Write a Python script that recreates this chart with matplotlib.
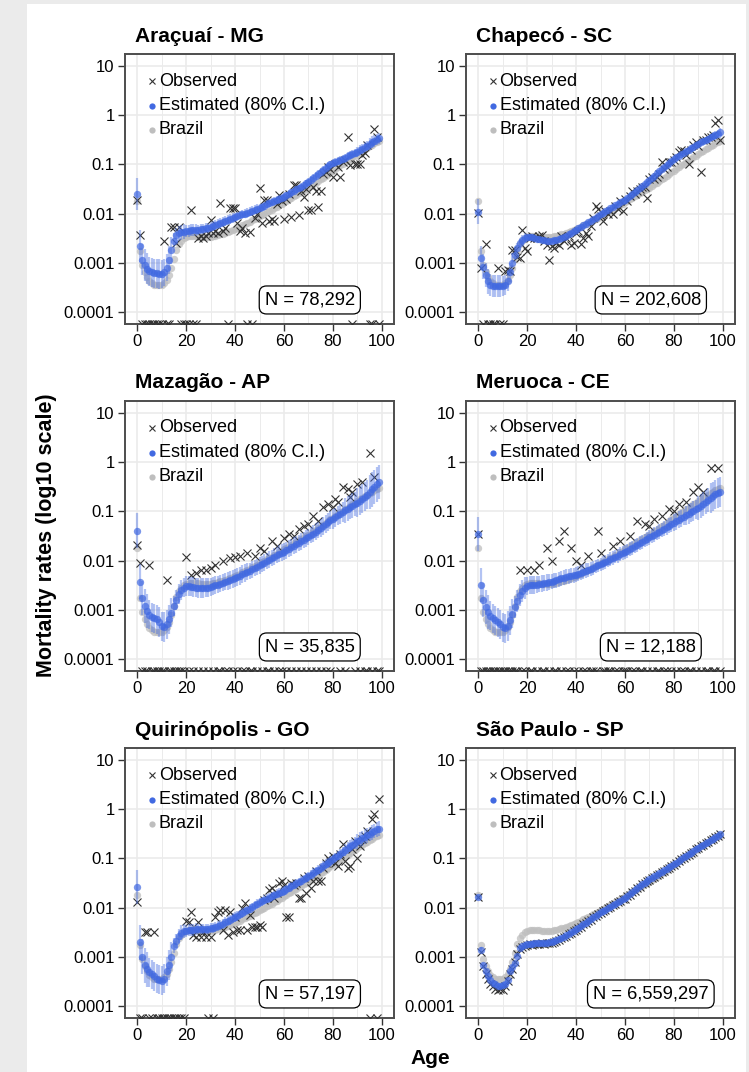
#!/usr/bin/env python3
"""Mortality rates by age for six municipalities (log10 scale)."""

import matplotlib

matplotlib.use("Agg")
import matplotlib.pyplot as plt
import numpy as np
from matplotlib.patches import Rectangle

plt.rcParams["font.family"] = ["Liberation Sans", "DejaVu Sans"]

AGES = list(range(100))
N = None  # zero deaths observed -> drawn on the lower border

TITLES = ["Araçuaí - MG", "Chapecó - SC", "Mazagão - AP",
          "Meruoca - CE", "Quirinópolis - GO", "São Paulo - SP"]
POP_LABELS = ["N = 78,292", "N = 202,608", "N = 35,835",
              "N = 12,188", "N = 57,197", "N = 6,559,297"]

# national curve (log10 rate), shared by all panels
BRAZIL = [
    -1.74, -2.77, -3.05, -3.20, -3.30, -3.38, -3.42, -3.45, -3.46, -3.46,
    -3.45, -3.42, -3.35, -3.25, -3.10, -2.92, -2.75, -2.62, -2.55, -2.50,
    -2.47, -2.46, -2.46, -2.46, -2.46, -2.46, -2.47, -2.47, -2.47, -2.47,
    -2.47, -2.46, -2.45, -2.44, -2.42, -2.41, -2.39, -2.37, -2.35, -2.33,
    -2.31, -2.29, -2.27, -2.24, -2.22, -2.20, -2.17, -2.14, -2.12, -2.09,
    -2.06, -2.03, -2.00, -1.97, -1.95, -1.92, -1.89, -1.86, -1.83, -1.80,
    -1.77, -1.74, -1.71, -1.68, -1.65, -1.62, -1.59, -1.56, -1.53, -1.50,
    -1.47, -1.44, -1.40, -1.37, -1.34, -1.30, -1.27, -1.23, -1.20, -1.16,
    -1.13, -1.09, -1.06, -1.02, -0.99, -0.95, -0.92, -0.88, -0.85, -0.82,
    -0.78, -0.75, -0.72, -0.69, -0.66, -0.63, -0.60, -0.57, -0.55, -0.52,
]

# estimated log10 rates
EST_ARACUAI = [
    -1.60, -2.66, -2.94, -3.05, -3.12, -3.18, -3.20, -3.22, -3.22, -3.23,
    -3.23, -3.20, -3.10, -2.95, -2.75, -2.55, -2.44, -2.40, -2.38, -2.37,
    -2.36, -2.35, -2.34, -2.34, -2.33, -2.33, -2.32, -2.31, -2.30, -2.29,
    -2.28, -2.26, -2.24, -2.22, -2.20, -2.18, -2.16, -2.13, -2.11, -2.09,
    -2.07, -2.05, -2.03, -2.01, -2.00, -1.98, -1.96, -1.94, -1.92, -1.90,
    -1.88, -1.86, -1.84, -1.81, -1.79, -1.77, -1.75, -1.72, -1.70, -1.68,
    -1.66, -1.63, -1.60, -1.57, -1.54, -1.51, -1.48, -1.45, -1.42, -1.38,
    -1.35, -1.31, -1.27, -1.23, -1.19, -1.15, -1.11, -1.07, -1.03, -1.00,
    -0.97, -0.95, -0.93, -0.91, -0.89, -0.86, -0.83, -0.80, -0.78, -0.76,
    -0.74, -0.71, -0.68, -0.65, -0.62, -0.58, -0.55, -0.52, -0.49, -0.47,
]
EST_CHAPECO = [
    -1.96, -2.91, -3.08, -3.25, -3.38, -3.45, -3.47, -3.48, -3.48, -3.48,
    -3.47, -3.45, -3.38, -3.20, -3.00, -2.84, -2.71, -2.61, -2.54, -2.50,
    -2.48, -2.47, -2.48, -2.49, -2.51, -2.52, -2.53, -2.54, -2.55, -2.55,
    -2.55, -2.54, -2.53, -2.52, -2.50, -2.48, -2.45, -2.42, -2.39, -2.36,
    -2.33, -2.30, -2.27, -2.24, -2.21, -2.18, -2.15, -2.12, -2.09, -2.05,
    -2.01, -1.98, -1.95, -1.92, -1.89, -1.86, -1.83, -1.80, -1.77, -1.74,
    -1.72, -1.68, -1.64, -1.60, -1.56, -1.52, -1.48, -1.44, -1.40, -1.36,
    -1.32, -1.27, -1.23, -1.18, -1.14, -1.10, -1.05, -1.01, -0.97, -0.92,
    -0.88, -0.85, -0.82, -0.79, -0.76, -0.73, -0.70, -0.67, -0.64, -0.61,
    -0.58, -0.55, -0.52, -0.50, -0.48, -0.45, -0.42, -0.40, -0.37, -0.34,
]
EST_MAZAGAO = [
    -1.39, -2.43, -2.76, -2.93, -3.03, -3.10, -3.16, -3.18, -3.20, -3.25,
    -3.34, -3.35, -3.30, -3.20, -3.06, -2.93, -2.80, -2.68, -2.60, -2.55,
    -2.52, -2.52, -2.53, -2.54, -2.55, -2.56, -2.56, -2.56, -2.55, -2.55,
    -2.54, -2.52, -2.50, -2.49, -2.47, -2.45, -2.43, -2.41, -2.39, -2.37,
    -2.35, -2.33, -2.31, -2.28, -2.26, -2.23, -2.21, -2.18, -2.15, -2.13,
    -2.10, -2.07, -2.04, -2.01, -1.98, -1.95, -1.92, -1.89, -1.86, -1.84,
    -1.82, -1.79, -1.76, -1.73, -1.70, -1.67, -1.64, -1.61, -1.58, -1.55,
    -1.52, -1.48, -1.45, -1.41, -1.38, -1.34, -1.30, -1.26, -1.22, -1.18,
    -1.15, -1.12, -1.08, -1.05, -1.01, -0.98, -0.94, -0.91, -0.88, -0.85,
    -0.82, -0.78, -0.74, -0.70, -0.66, -0.60, -0.55, -0.50, -0.45, -0.40,
]
EST_MERUOCA = [
    -1.46, -2.50, -2.80, -2.95, -3.05, -3.12, -3.18, -3.22, -3.26, -3.30,
    -3.36, -3.38, -3.33, -3.22, -3.08, -2.95, -2.82, -2.70, -2.62, -2.56,
    -2.52, -2.50, -2.50, -2.50, -2.49, -2.48, -2.47, -2.46, -2.45, -2.44,
    -2.43, -2.41, -2.40, -2.38, -2.36, -2.35, -2.33, -2.32, -2.31, -2.30,
    -2.29, -2.27, -2.25, -2.23, -2.21, -2.19, -2.17, -2.15, -2.12, -2.10,
    -2.08, -2.05, -2.03, -2.00, -1.97, -1.95, -1.92, -1.90, -1.87, -1.85,
    -1.83, -1.80, -1.77, -1.74, -1.71, -1.68, -1.65, -1.62, -1.59, -1.56,
    -1.53, -1.50, -1.47, -1.44, -1.41, -1.38, -1.35, -1.32, -1.29, -1.26,
    -1.23, -1.20, -1.17, -1.14, -1.11, -1.08, -1.05, -1.02, -0.99, -0.96,
    -0.93, -0.89, -0.85, -0.81, -0.77, -0.73, -0.69, -0.65, -0.62, -0.60,
]
EST_QUIRINOPOLIS = [
    -1.58, -2.71, -3.00, -3.18, -3.26, -3.32, -3.36, -3.40, -3.45, -3.47,
    -3.49, -3.45, -3.30, -3.17, -3.00, -2.78, -2.68, -2.58, -2.51, -2.48,
    -2.47, -2.46, -2.45, -2.45, -2.44, -2.44, -2.44, -2.44, -2.43, -2.43,
    -2.42, -2.41, -2.39, -2.37, -2.35, -2.33, -2.30, -2.27, -2.25, -2.22,
    -2.20, -2.17, -2.14, -2.11, -2.08, -2.05, -2.02, -1.99, -1.95, -1.92,
    -1.89, -1.87, -1.84, -1.82, -1.80, -1.77, -1.75, -1.72, -1.70, -1.68,
    -1.66, -1.63, -1.60, -1.57, -1.54, -1.51, -1.48, -1.45, -1.42, -1.39,
    -1.36, -1.33, -1.29, -1.26, -1.23, -1.19, -1.16, -1.12, -1.09, -1.05,
    -1.02, -0.98, -0.94, -0.90, -0.86, -0.82, -0.78, -0.75, -0.72, -0.68,
    -0.65, -0.62, -0.59, -0.56, -0.53, -0.50, -0.47, -0.44, -0.41, -0.39,
]
EST_SAO_PAULO = [
    -1.79, -2.86, -3.17, -3.30, -3.40, -3.48, -3.53, -3.56, -3.60, -3.60,
    -3.58, -3.56, -3.48, -3.30, -3.22, -3.12, -2.98, -2.83, -2.78, -2.76,
    -2.75, -2.74, -2.74, -2.73, -2.73, -2.73, -2.72, -2.72, -2.72, -2.71,
    -2.71, -2.69, -2.67, -2.65, -2.62, -2.60, -2.56, -2.53, -2.50, -2.47,
    -2.44, -2.41, -2.38, -2.34, -2.31, -2.27, -2.24, -2.20, -2.17, -2.13,
    -2.10, -2.07, -2.04, -2.01, -1.98, -1.95, -1.92, -1.89, -1.86, -1.83,
    -1.81, -1.77, -1.73, -1.69, -1.65, -1.61, -1.57, -1.53, -1.50, -1.46,
    -1.42, -1.39, -1.36, -1.33, -1.30, -1.27, -1.24, -1.21, -1.18, -1.15,
    -1.12, -1.09, -1.05, -1.02, -0.98, -0.95, -0.91, -0.88, -0.85, -0.81,
    -0.78, -0.75, -0.72, -0.69, -0.66, -0.63, -0.60, -0.57, -0.54, -0.51,
]

# 80% interval half-width (log10), one value per 5-year age band
CI_ARACUAI = [0.32, 0.30, 0.28, 0.15, 0.12, 0.10, 0.10, 0.10, 0.09, 0.09,
              0.08, 0.08, 0.07, 0.07, 0.07, 0.07, 0.08, 0.08, 0.10, 0.12]
CI_CHAPECO = [0.25, 0.22, 0.20, 0.10, 0.05, 0.04, 0.04, 0.04, 0.03, 0.03,
              0.03, 0.03, 0.03, 0.03, 0.03, 0.03, 0.04, 0.04, 0.06, 0.08]
CI_MAZAGAO = [0.35, 0.30, 0.30, 0.20, 0.20, 0.20, 0.18, 0.18, 0.18, 0.17,
              0.17, 0.17, 0.17, 0.17, 0.17, 0.18, 0.20, 0.25, 0.30, 0.35]
CI_MERUOCA = [0.35, 0.30, 0.30, 0.22, 0.18, 0.17, 0.15, 0.15, 0.15, 0.14,
              0.14, 0.14, 0.14, 0.14, 0.15, 0.15, 0.17, 0.20, 0.25, 0.30]
CI_QUIRINOPOLIS = [0.35, 0.30, 0.30, 0.15, 0.12, 0.10, 0.10, 0.10, 0.10, 0.09,
                   0.09, 0.09, 0.09, 0.09, 0.09, 0.10, 0.10, 0.12, 0.15, 0.15]
CI_SAO_PAULO = [0.05, 0.04, 0.04, 0.02, 0.01, 0.01, 0.01, 0.01, 0.01, 0.01,
                0.01, 0.01, 0.01, 0.01, 0.01, 0.01, 0.01, 0.01, 0.01, 0.02]

# observed log10 rates (None = no deaths at that age)
OBS_ARACUAI = [
    -1.72, -2.43, N, N, N, N, N, N, N, N,
    N, -2.55, N, N, -2.27, -2.27, -2.60, -2.27, N, N,
    N, N, -1.93, N, N, -2.50, -2.45, -2.50, -2.45, -2.40,
    -2.13, -2.40, -2.35, -2.40, -1.78, -2.35, -2.30, N, -1.89, -1.89,
    -1.89, -2.20, -2.35, -2.30, -2.40, N, -2.38, N, -2.10, -2.00,
    -1.48, -2.20, -1.72, -1.72, -2.16, -2.12, -2.16, -1.80, -1.62, -1.75,
    -2.11, -1.70, -1.60, -2.07, -1.42, -1.42, -2.03, -1.55, -1.66, -1.50,
    -1.93, -1.93, -1.45, -1.55, -1.86, -1.55, -1.20, -1.15, -1.05, -1.10,
    -1.25, -1.00, -1.05, -1.25, -0.95, -0.90, -0.44, -1.01, N, -1.00,
    -1.00, -1.00, -0.80, -0.77, -0.60, N, N, -0.27, -0.45, N,
]
OBS_CHAPECO = [
    -1.99, -3.10, N, -2.62, N, N, N, N, -3.10, N,
    N, -3.18, -3.15, -3.18, -2.74, -2.75, -2.88, -2.90, -2.33, -2.70,
    -2.77, -2.50, -2.45, -2.50, -2.50, -2.45, -2.44, -2.55, -2.65, -2.94,
    -2.66, -2.70, -2.60, -2.65, -2.45, -2.55, -2.50, -2.45, -2.65, -2.60,
    -2.40, -2.35, -2.62, -2.50, -2.40, -2.45, -2.25, -2.10, -1.85, -1.90,
    -2.05, -2.15, -1.95, -2.00, -1.95, -2.00, -1.85, -1.90, -1.75, -1.95,
    -1.70, -1.75, -1.65, -1.55, -1.60, -1.55, -1.50, -1.45, -1.45, -1.69,
    -1.30, -1.25, -1.30, -1.25, -1.20, -0.94, -1.10, -1.05, -0.95, -0.95,
    -0.90, -0.85, -0.75, -0.70, -0.72, -0.80, -1.00, -0.70, -0.60, -0.55,
    -0.62, -1.15, -0.50, -0.50, -0.45, -0.45, -0.40, -0.16, -0.10, -0.50,
]
OBS_MAZAGAO = [
    -1.69, -2.04, N, N, N, -2.09, N, N, N, N,
    N, N, -2.39, N, N, N, N, N, N, N,
    -1.92, N, -2.30, N, -2.25, N, -2.20, N, -2.20, N,
    -2.15, N, -2.10, N, N, -2.00, N, N, -1.95, N,
    -1.92, N, -1.90, N, N, -1.85, N, N, -1.90, N,
    -1.75, N, -1.80, N, N, -1.60, N, -1.70, N, N,
    -1.55, N, -1.45, N, -1.50, N, -1.35, N, -1.30, N,
    -1.25, N, -1.10, N, -1.20, N, -0.90, N, -0.85, N,
    -0.90, -0.75, -0.80, N, -0.50, N, -0.55, -0.70, -0.60, N,
    -0.45, N, -0.40, N, N, 0.20, N, -0.30, N, N,
]
OBS_MERUOCA = [
    -1.46, N, N, N, N, N, N, N, N, N,
    N, N, N, N, N, N, N, -2.20, N, N,
    -2.20, N, N, -2.20, N, -2.10, N, N, -1.75, N,
    -2.00, N, N, -1.60, N, -1.40, N, N, -1.75, N,
    -2.00, N, -2.10, N, N, -1.90, N, N, N, -1.40,
    -1.85, N, N, N, N, -1.70, N, N, -1.60, N,
    N, N, -1.50, N, N, -1.20, N, N, -1.25, N,
    -1.30, N, -1.15, N, N, -1.10, N, N, -0.95, N,
    -1.00, N, -0.85, N, N, -0.80, N, N, -0.60, N,
    -0.50, N, -0.60, N, N, -0.12, N, N, -0.12, N,
]
OBS_QUIRINOPOLIS = [
    -1.89, N, N, -2.50, -2.50, N, N, -2.50, N, N,
    N, N, N, N, N, N, N, N, N, N,
    -2.27, -2.30, -2.10, -2.55, -2.60, -2.30, -2.60, -2.50, -2.60, N,
    -2.60, N, -2.20, -2.10, -2.05, -2.45, -2.05, -2.55, -2.10, -2.50,
    -2.20, -2.45, -2.45, -2.00, -1.90, -2.45, -2.15, -2.40, -2.40, -2.40,
    -2.35, -2.40, -1.85, -1.80, -1.65, -1.60, -1.80, -1.70, -1.50, -1.45,
    -1.55, -2.20, -2.20, -1.50, -1.55, -1.50, -1.80, -1.80, -1.40, -1.70,
    -1.35, -1.60, -1.45, -1.25, -1.45, -1.45, -1.20, -1.10, -1.00, -1.05,
    -0.95, -1.10, -1.15, -0.90, -0.70, -1.05, -1.20, -1.15, -0.80, -0.65,
    -1.00, -0.75, -0.60, -0.55, -0.45, N, -0.20, -0.10, N, 0.22,
]
OBS_SAO_PAULO = [
    -1.79, -2.90, -3.20, -3.35, -3.45, -3.55, -3.60, -3.65, -3.68, -3.65,
    -3.68, -3.60, -3.50, -3.35, -3.25, -3.10, -2.95, -2.85, -2.80, -2.78,
    -2.77, -2.75, -2.76, -2.75, -2.74, -2.75, -2.73, -2.74, -2.73, -2.72,
    -2.72, -2.70, -2.68, -2.66, -2.63, -2.60, -2.57, -2.53, -2.51, -2.47,
    -2.45, -2.41, -2.39, -2.34, -2.32, -2.27, -2.25, -2.20, -2.18, -2.13,
    -2.11, -2.07, -2.05, -2.01, -1.99, -1.95, -1.93, -1.89, -1.87, -1.83,
    -1.82, -1.77, -1.74, -1.69, -1.66, -1.61, -1.58, -1.53, -1.51, -1.46,
    -1.43, -1.39, -1.37, -1.33, -1.31, -1.27, -1.25, -1.21, -1.19, -1.15,
    -1.13, -1.09, -1.06, -1.02, -0.99, -0.95, -0.92, -0.88, -0.86, -0.81,
    -0.79, -0.75, -0.73, -0.69, -0.67, -0.63, -0.61, -0.57, -0.55, -0.51,
]

ESTIMATES = [EST_ARACUAI, EST_CHAPECO, EST_MAZAGAO,
             EST_MERUOCA, EST_QUIRINOPOLIS, EST_SAO_PAULO]
INTERVALS = [CI_ARACUAI, CI_CHAPECO, CI_MAZAGAO,
             CI_MERUOCA, CI_QUIRINOPOLIS, CI_SAO_PAULO]
OBSERVED = [OBS_ARACUAI, OBS_CHAPECO, OBS_MAZAGAO,
            OBS_MERUOCA, OBS_QUIRINOPOLIS, OBS_SAO_PAULO]

Y_TICKS = [1e-4, 1e-3, 1e-2, 1e-1, 1, 10]
Y_TICK_LABELS = ["0.0001", "0.001", "0.01", "0.1", "1", "10"]
X_TICKS = [0, 20, 40, 60, 80, 100]

BLUE = "#4169e1"
GREY = "#bebebe"
CROSS = "#333333"
FIG_W, FIG_H = 749, 1072
PANEL_LEFT = [125, 466]
PANEL_BOTTOM = [324, 671, 1018]
PANEL_W, PANEL_H = 269, 270
Y_LIM = (10 ** -4.25, 10 ** 1.25)


def draw_panel(ax, idx):
    ages = np.array(AGES)
    est = np.array(ESTIMATES[idx])
    half = np.repeat(INTERVALS[idx], 5)
    obs = np.array(OBSERVED[idx], dtype=float)
    brazil = np.array(BRAZIL)

    ax.set_facecolor("white")
    ax.set_xlim(-5, 105)
    ax.set_yscale("log")
    ax.set_ylim(*Y_LIM)

    ax.scatter(ages, 10 ** brazil, s=28, color=GREY, alpha=0.75,
               linewidths=0, zorder=2)

    seen = ~np.isnan(obs)
    ax.plot(ages[seen], 10 ** obs[seen], linestyle="none", marker="x",
            markersize=5.8, markeredgewidth=0.8, color=CROSS, zorder=3)
    ax.plot(ages[~seen], np.full((~seen).sum(), Y_LIM[0]), linestyle="none",
            marker="x", markersize=5.8, markeredgewidth=0.8, color=CROSS,
            zorder=3, clip_on=True)

    ax.vlines(ages, 10 ** (est - half), 10 ** (est + half), color=BLUE,
              alpha=0.4, linewidth=1.6, zorder=4)
    ax.scatter(ages, 10 ** est, s=28, color=BLUE, alpha=0.7,
               linewidths=0, zorder=5)

    ax.set_yticks(Y_TICKS, Y_TICK_LABELS)
    ax.yaxis.set_minor_locator(matplotlib.ticker.NullLocator())
    ax.set_xticks(X_TICKS)
    ax.set_xticks(range(10, 100, 20), minor=True)
    ax.tick_params(which="major", length=5, width=1.0, color="#333333",
                   labelsize=12, labelcolor="black", pad=2.5)
    ax.tick_params(which="minor", length=0)
    ax.grid(which="major", color="#ebebeb", linewidth=1.2, zorder=0)
    ax.grid(which="minor", axis="x", color="#ebebeb", linewidth=0.7, zorder=0)
    ax.set_axisbelow(True)
    for spine in ax.spines.values():
        spine.set_color("#4d4d4d")
        spine.set_linewidth(1.4)

    ax.annotate(TITLES[idx], xy=(0, 1), xycoords="axes fraction",
                xytext=(10, 18), textcoords="offset pixels", ha="left",
                va="center", fontsize=15, fontweight="bold")

    # legend, written by hand to match the inset layout
    rows = [(0.900, "x", CROSS, "Observed"),
            (0.808, "o", BLUE, "Estimated (80% C.I.)"),
            (0.719, "o", GREY, "Brazil")]
    for y, marker, color, label in rows:
        if marker == "x":
            ax.plot([0.10], [y], transform=ax.transAxes, marker="x",
                    markersize=5, markeredgewidth=0.8, color=color,
                    clip_on=False)
        else:
            ax.plot([0.10], [y], transform=ax.transAxes, marker="o",
                    markersize=4.5, markeredgewidth=0, color=color,
                    clip_on=False)
        ax.text(0.125, y, label, transform=ax.transAxes, ha="left",
                va="center", fontsize=13)

    ax.text(0.687, 0.089, POP_LABELS[idx], transform=ax.transAxes,
            ha="center", va="center", fontsize=13.2, zorder=6,
            bbox=dict(boxstyle="round,pad=0.3,rounding_size=0.4",
                      facecolor="white", edgecolor="black", linewidth=0.9))


def main():
    fig = plt.figure(figsize=(FIG_W / 100, FIG_H / 100), dpi=100)
    fig.patch.set_facecolor("#ebebeb")
    backdrop = Rectangle((27 / FIG_W, 0), (746 - 27) / FIG_W,
                         (FIG_H - 4) / FIG_H, transform=fig.transFigure,
                         facecolor="white", edgecolor="none", zorder=-10)
    fig.add_artist(backdrop)

    for idx in range(6):
        row, col = divmod(idx, 2)
        rect = (PANEL_LEFT[col] / FIG_W,
                (FIG_H - PANEL_BOTTOM[row]) / FIG_H,
                PANEL_W / FIG_W, PANEL_H / FIG_H)
        ax = fig.add_axes(rect)
        draw_panel(ax, idx)

    fig.text(47 / FIG_W, 1 - 535 / FIG_H, "Mortality rates (log10 scale)",
             rotation=90, ha="center", va="center", fontsize=15.5,
             fontweight="bold")
    fig.text(430 / FIG_W, 1 - 1058 / FIG_H, "Age", ha="center", va="center",
             fontsize=15, fontweight="bold")

    fig.savefig("out.png", dpi=100, facecolor=fig.get_facecolor())
    plt.close(fig)


if __name__ == "__main__":
    main()
